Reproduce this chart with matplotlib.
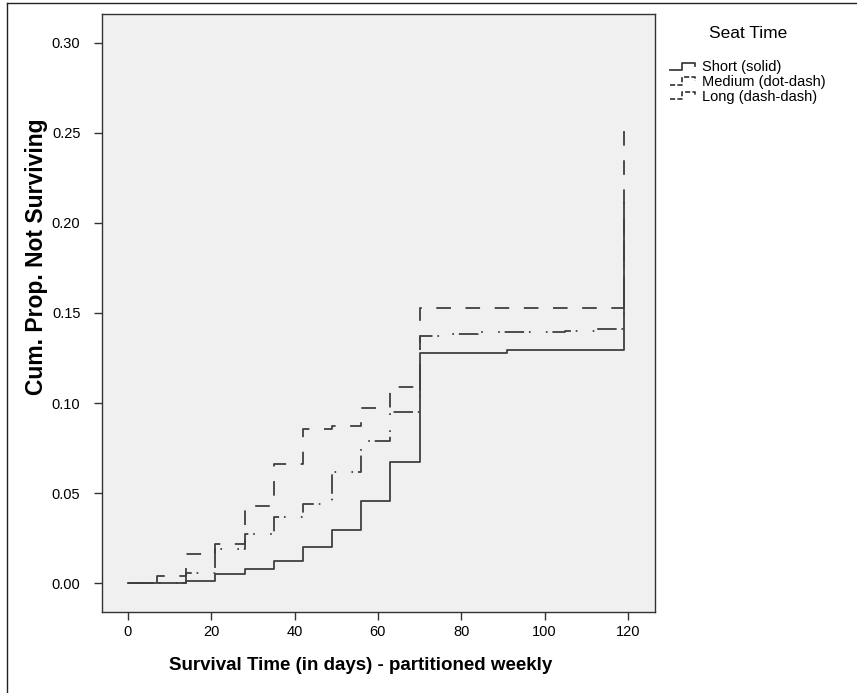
import matplotlib
matplotlib.use("Agg")
import matplotlib.pyplot as plt
from matplotlib.lines import Line2D
from matplotlib.legend_handler import HandlerLine2D

plt.rcParams["font.family"] = ["Liberation Sans", "DejaVu Sans"]
plt.rcParams["lines.scale_dashes"] = False

# weekly partition (days) -- value holds from each day until the next one
days = [0, 7, 14, 21, 28, 35, 42, 49, 56, 63, 70, 77, 84, 91, 98, 105, 112, 119]
short_vals = [0.0, 0.0, 0.001, 0.005, 0.008, 0.0125, 0.020, 0.0295, 0.0457, 0.067,
              0.128, 0.128, 0.128, 0.1293, 0.1293, 0.1293, 0.1293, 0.211]
medium_vals = [0.0, 0.0, 0.0055, 0.019, 0.0275, 0.037, 0.044, 0.062, 0.079, 0.095,
               0.137, 0.1385, 0.1395, 0.1395, 0.1395, 0.140, 0.1413, 0.195]
long_vals = [0.0, 0.004, 0.016, 0.022, 0.043, 0.066, 0.0855, 0.087, 0.0975, 0.109,
             0.1526, 0.1526, 0.1526, 0.1526, 0.1526, 0.1526, 0.1526, 0.2557]

labels = ["Short (solid)", "Medium (dot-dash)", "Long (dash-dash)"]
styles = ["-", (0, (1.2, 3.5, 14, 3.5, 1.2, 11)), (0, (10.5, 10.5))]
yticks = [0.0, 0.05, 0.10, 0.15, 0.20, 0.25, 0.30]
xticks = [0, 20, 40, 60, 80, 100, 120]
line_color = "#3f3f3f"


class StepHandler(HandlerLine2D):
    """Little step glyph like the SPSS legend."""
    def create_artists(self, legend, orig, xdescent, ydescent, width, height, fontsize, trans):
        xs = [0, 0.45 * width, 0.45 * width, 0.9 * width, 0.9 * width]
        ys = [0.15 * height, 0.15 * height, 0.85 * height, 0.85 * height, 0.55 * height]
        ln = Line2D([x - xdescent for x in xs], [y - ydescent for y in ys],
                    color=orig.get_color(), linestyle=orig.get_linestyle(),
                    linewidth=orig.get_linewidth())
        ln.set_transform(trans)
        return [ln]


def plot_survival():
    fig = plt.figure(figsize=(8.57, 6.93), dpi=100)
    ax = fig.add_axes([102 / 857, 1 - 612 / 693, 553 / 857, 598 / 693])
    ax.set_facecolor("#f0f0f0")

    handles = []
    for vals, ls, lab in zip([short_vals, medium_vals, long_vals], styles, labels):
        h, = ax.step(days, vals, where="post", color=line_color, linestyle=ls,
                     linewidth=1.3, label=lab)
        handles.append(h)

    ax.set_xlim(-6.2, 126.5)
    ax.set_ylim(-0.016, 0.316)
    ax.set_xticks(xticks)
    ax.set_yticks(yticks)
    ax.set_yticklabels(["%.2f" % v for v in yticks])
    ax.tick_params(labelsize=10.5, length=5.5, width=1, color="#333333")
    ax.tick_params(axis="y", pad=10)
    ax.tick_params(axis="x", pad=4)
    for sp in ax.spines.values():
        sp.set_color("#333333")
        sp.set_linewidth(1.0)

    ax.set_xlabel("Survival Time (in days) - partitioned weekly", fontsize=13.5,
                  fontweight="bold")
    ax.set_ylabel("Cum. Prop. Not Surviving", fontsize=16.5, fontweight="bold")
    # SPSS puts the titles a bit off-centre
    ax.xaxis.set_label_coords(0.467, -0.075)
    ax.yaxis.set_label_coords(-0.098, 0.594)

    leg = fig.legend(handles, labels, title="Seat Time", loc="upper left",
                     bbox_to_anchor=(670 / 857, 1 - 26 / 693), frameon=False,
                     fontsize=10.5, title_fontsize=12.5, handlelength=1.9,
                     handletextpad=0.3, labelspacing=0.05, borderpad=0,
                     borderaxespad=0, handler_map={Line2D: StepHandler()})
    leg._legend_box.sep = 14

    # outer frame (only left and top edges are drawn)
    fig.add_artist(Line2D([6.5 / 857, 6.5 / 857], [0, 1 - 2.5 / 693], color="#222222",
                          linewidth=1.0, transform=fig.transFigure))
    fig.add_artist(Line2D([6.5 / 857, 1], [1 - 2.5 / 693, 1 - 2.5 / 693], color="#222222",
                          linewidth=1.0, transform=fig.transFigure))

    fig.savefig("out.png", dpi=100)


if __name__ == "__main__":
    plot_survival()
